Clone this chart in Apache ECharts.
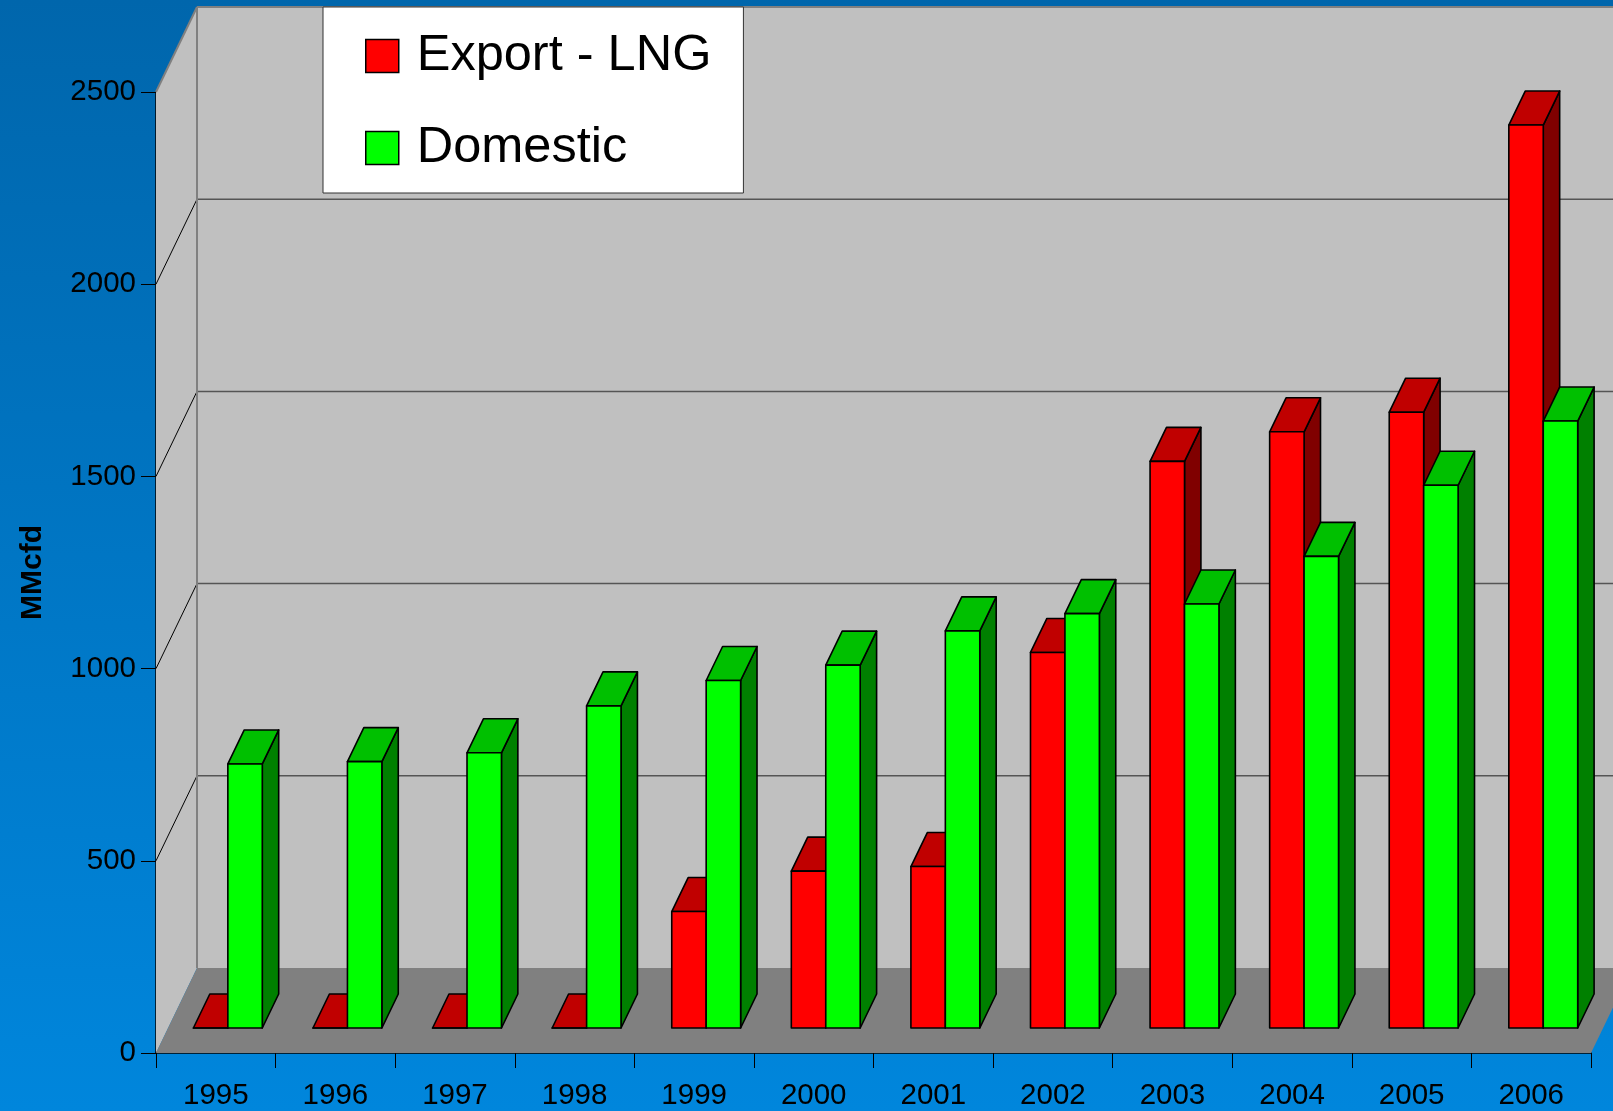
<!DOCTYPE html>
<html>
<head>
<meta charset="utf-8">
<script src="https://cdn.jsdelivr.net/npm/echarts@6/dist/echarts.min.js"></script>
<style>
html,body{margin:0;padding:0;width:1613px;height:1111px;overflow:hidden;}
#chart{width:1613px;height:1111px;}
</style>
</head>
<body>
<div id="chart"></div>
<script>
var categories = ['1995','1996','1997','1998','1999','2000','2001','2002','2003','2004','2005','2006'];
var exportLNG = [0, 0, 0, 0, 303, 408, 420, 977, 1474, 1551, 1602, 2349];
var domestic = [687, 693, 716, 838, 904, 944, 1033, 1078, 1103, 1227, 1412, 1579];
var yTicks = [0, 500, 1000, 1500, 2000, 2500];

var DX = 41, DY = -85;          // depth offset of the back wall (px)
var FA = 0.294, FB = 0.694;     // bar front/back depth fractions
var BARW = 0.288;               // bar width as fraction of band

function frameItem(params, api) {
  var cs = params.coordSys;
  var x0 = cs.x, x1 = cs.x + cs.width, yTop = cs.y, yBot = cs.y + cs.height;
  var ch = [];
  ch.push({type:'rect', shape:{x:x0+DX, y:yTop+DY, width:cs.width+200, height:cs.height}, style:{fill:'#C0C0C0'}});
  ch.push({type:'polygon', shape:{points:[[x0,yTop],[x0+DX,yTop+DY],[x0+DX,yBot+DY],[x0,yBot]]}, style:{fill:'#C0C0C0'}});
  ch.push({type:'polygon', shape:{points:[[x0,yBot],[x0+DX,yBot+DY],[x1+DX,yBot+DY],[x1,yBot]]}, style:{fill:'#808080'}});
  for (var i = 1; i < yTicks.length - 1; i++) {
    var y = api.coord([0, yTicks[i]])[1];
    ch.push({type:'line', shape:{x1:x0+DX, y1:y+DY, x2:x1+DX+200, y2:y+DY}, style:{stroke:'#555555', lineWidth:1.5}});
    ch.push({type:'line', shape:{x1:x0, y1:y, x2:x0+DX, y2:y+DY}, style:{stroke:'#000000', lineWidth:1}});
  }
  ch.push({type:'line', shape:{x1:x0+DX, y1:yTop+DY, x2:x1+DX+200, y2:yTop+DY}, style:{stroke:'#808080', lineWidth:2}});
  ch.push({type:'line', shape:{x1:x0+DX, y1:yTop+DY, x2:x0+DX, y2:yBot+DY}, style:{stroke:'#808080', lineWidth:2}});
  ch.push({type:'line', shape:{x1:x0, y1:yTop, x2:x0+DX, y2:yTop+DY}, style:{stroke:'#808080', lineWidth:2}});
  return {type:'group', children:ch};
}

function makeBarRender(side, cFront, cTop, cSide) {
  return function(params, api) {
    var cat = api.value(0), val = api.value(1);
    var p0 = api.coord([cat, 0]);
    var p1 = api.coord([cat, val]);
    var band = api.size([1, 0])[0];
    var w = band * BARW;
    var xl = p0[0] + (side === 0 ? -w : 0) + FA * DX;
    var xr = xl + w;
    var yb = p0[1] + FA * DY;
    var yt = p1[1] + FA * DY;
    var tdx = (FB - FA) * DX, tdy = (FB - FA) * DY;
    var st = {stroke:'#000000', lineWidth:1.6, lineJoin:'round'};
    return {type:'group', children:[
      {type:'polygon', shape:{points:[[xr,yt],[xr+tdx,yt+tdy],[xr+tdx,yb+tdy],[xr,yb]]}, style:Object.assign({fill:cSide}, st)},
      {type:'polygon', shape:{points:[[xl,yt],[xr,yt],[xr+tdx,yt+tdy],[xl+tdx,yt+tdy]]}, style:Object.assign({fill:cTop}, st)},
      {type:'rect', shape:{x:xl, y:yt, width:w, height:yb-yt}, style:Object.assign({fill:cFront}, st)}
    ]};
  };
}

var chart = echarts.init(document.getElementById('chart'), null, {renderer:'canvas'});
var FONT = 'Liberation Sans';
chart.setOption({
  animation: false,
  backgroundColor: {type:'linear', x:0, y:0, x2:0, y2:1, colorStops:[{offset:0, color:'#0066AC'},{offset:1, color:'#0086DC'}]},
  textStyle: {fontFamily: FONT},
  grid: {left:156, right:22, top:92, bottom:58, containLabel:false},
  legend: {
    orient:'vertical', left:323, top:7,
    backgroundColor:'#FFFFFF', borderColor:'#333333', borderWidth:1,
    padding:[21, 32, 17, 42], itemGap:36,
    itemWidth:33, itemHeight:33, icon:'rect',
    textStyle:{fontFamily:FONT, fontSize:50.5, color:'#000000', lineHeight:40, padding:[16,0,0,13]},
    data:[
      {name:'Export - LNG', itemStyle:{color:'#FF0000', borderColor:'#000000', borderWidth:1.5}},
      {name:'Domestic', itemStyle:{color:'#00FF00', borderColor:'#000000', borderWidth:1.5}}
    ]
  },
  xAxis: {
    type:'category', data:categories, boundaryGap:true,
    axisLine:{show:true, lineStyle:{color:'#000000', width:1.5}},
    axisTick:{show:true, length:15, lineStyle:{color:'#000000', width:1}},
    axisLabel:{color:'#000000', fontSize:29.5, fontFamily:FONT, margin:28},
    splitLine:{show:false}
  },
  yAxis: {
    type:'value', min:0, max:2500, interval:500,
    name:'MMcfd', nameLocation:'middle', nameRotate:90, nameGap:108,
    nameTextStyle:{color:'#000000', fontSize:30, fontWeight:'bold', fontFamily:FONT},
    axisLine:{show:true, lineStyle:{color:'#000000', width:1.5}},
    axisTick:{show:true, length:15, lineStyle:{color:'#000000', width:1}},
    axisLabel:{color:'#000000', fontSize:29.5, fontFamily:FONT, margin:20, formatter:function(v){ return String(v); }},
    splitLine:{show:false}
  },
  series: [
    {type:'custom', name:'frame', silent:true, clip:false, z:1, data:[[0, 0]], renderItem:frameItem, encode:{x:0, y:1}},
    {type:'custom', name:'Export - LNG', clip:false, z:2, itemStyle:{color:'#FF0000'},
      data: exportLNG.map(function(v, i){ return [i, v]; }),
      encode:{x:0, y:1},
      renderItem: makeBarRender(0, '#FF0000', '#C00000', '#800000')},
    {type:'custom', name:'Domestic', clip:false, z:3, itemStyle:{color:'#00FF00'},
      data: domestic.map(function(v, i){ return [i, v]; }),
      encode:{x:0, y:1},
      renderItem: makeBarRender(1, '#00FF00', '#00C000', '#008000')}
  ]
});
</script>
</body>
</html>
